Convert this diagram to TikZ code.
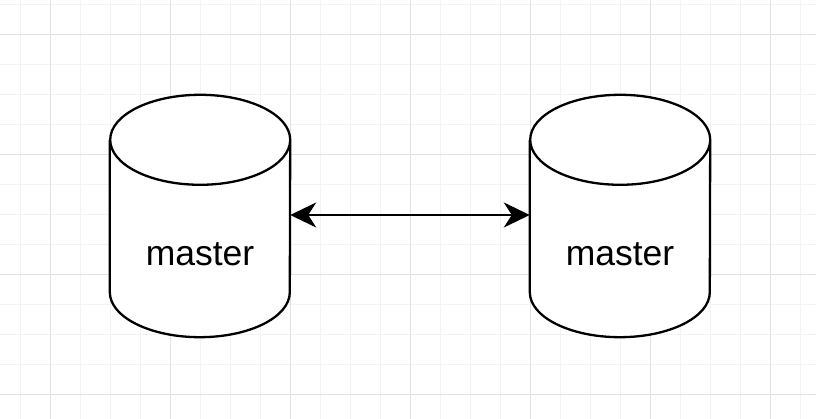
\documentclass[tikz,border=0pt]{standalone}
\usepackage{fontspec}
\setmainfont{Liberation Sans}
\usetikzlibrary{arrows.meta, positioning}

\definecolor{gridminor}{HTML}{F3F3F3}
\definecolor{gridmajor}{HTML}{E2E2E2}

\begin{document}
\begin{tikzpicture}[x=1pt, y=1pt,
   dbbox/.style = {minimum width=180pt, minimum height=242pt, inner sep=0pt},
   dblabel/.style = {anchor=base, inner sep=0pt, font=\fontsize{35.5}{42}\selectfont},
   dbline/.style = {line width=2.3pt, line join=round},
   link/.style = {line width=2.3pt, {Stealth[length=26pt, width=25pt, inset=8pt]}-{Stealth[length=26pt, width=25pt, inset=8pt]}}]
   \useasboundingbox (0,0) rectangle (816,419);
   % grid
   \foreach \x in {20,50,...,800} \draw[gridminor, line width=1pt] (\x,0) -- (\x,419);
   \foreach \y in {24,54,...,414} \draw[gridminor, line width=1pt] (0,\y) -- (816,\y);
   \foreach \x in {50,170,...,770} \draw[gridmajor, line width=1pt] (\x,0) -- (\x,419);
   \foreach \y in {24,144,...,384} \draw[gridmajor, line width=1pt] (0,\y) -- (816,\y);

   \node[dbbox] (m1) at (200,203) {};
   \node[dbbox] (m2) at (620,203) {};

   % cylinders
   \foreach \m in {m1, m2}
     \draw[dbline, fill=white] ([yshift=-45pt]\m.north west) -- ([yshift=45pt]\m.south west)
        arc[start angle=180, end angle=360, x radius=90pt, y radius=45pt]
        -- ([yshift=-45pt]\m.north east)
        arc[start angle=0, end angle=180, x radius=90pt, y radius=45pt]
        arc[start angle=180, end angle=360, x radius=90pt, y radius=45pt];

   \node[dblabel] (t1) at ([yshift=-50pt]m1.center) {master};
   \node[dblabel] (t2) at ([yshift=-50pt]m2.center) {master};

   \draw[link] ([yshift=1pt]m1.east) -- ([yshift=1pt]m2.west);
\end{tikzpicture}
\end{document}
